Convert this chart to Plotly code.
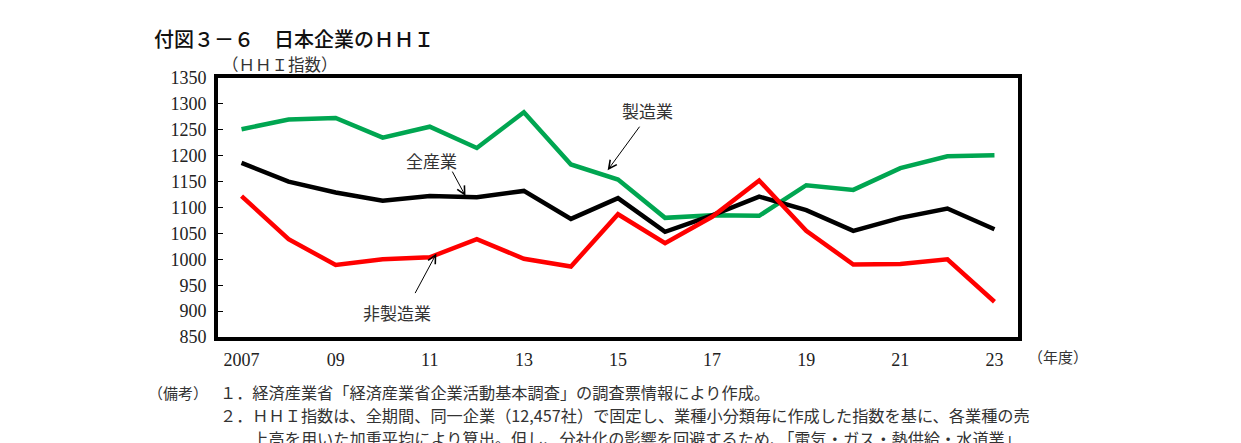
import plotly.graph_objects as go

# 年度
years = list(range(2007, 2024))
tick_vals = [2007, 2009, 2011, 2013, 2015, 2017, 2019, 2021, 2023]
tick_text = ["2007", "09", "11", "13", "15", "17", "19", "21", "23"]

# HHI指数
manufacturing = [1251, 1270, 1273, 1235, 1256, 1215, 1284, 1183, 1154,
                 1080, 1085, 1084, 1143, 1134, 1176, 1199, 1201]
all_industries = [1186, 1150, 1129, 1113, 1122, 1120, 1132, 1078, 1118,
                  1053, 1085, 1121, 1095, 1055, 1080, 1098, 1058]
non_manufacturing = [1122, 1039, 989, 1000, 1004, 1039, 1001, 986, 1087,
                     1031, 1082, 1152, 1055, 990, 991, 1000, 918]

serif = "Liberation Serif, Noto Sans CJK JP"
cjk = "Noto Sans CJK JP"

W, H = 1241, 443
L, R, T, B = 210, 231, 70, 114

fig = go.Figure()
fig.add_trace(go.Scatter(x=years, y=manufacturing, mode='lines', name='製造業',
                         line=dict(color='#00A651', width=4.5)))
fig.add_trace(go.Scatter(x=years, y=all_industries, mode='lines', name='全産業',
                         line=dict(color='#000000', width=4.5)))
fig.add_trace(go.Scatter(x=years, y=non_manufacturing, mode='lines', name='非製造業',
                         line=dict(color='#FF0000', width=4.5)))

fig.update_layout(
    width=W, height=H,
    margin=dict(l=L, r=R, t=T, b=B),
    paper_bgcolor='white', plot_bgcolor='white',
    showlegend=False,
    font=dict(family=serif, size=18, color='#222'),
    xaxis=dict(range=[2006.5, 2023.5], tickvals=tick_vals, ticktext=tick_text,
               showgrid=False, zeroline=False, showline=True, linecolor='black',
               linewidth=4, mirror=True, ticks='', ticklabelstandoff=3,
               tickfont=dict(family=serif, size=18, color='#222')),
    yaxis=dict(range=[850, 1350], dtick=50, showgrid=False, zeroline=False,
               showline=True, linecolor='black', linewidth=4, mirror=True,
               ticks='inside', ticklen=5, tickcolor='black', ticklabelstandoff=4,
               tickfont=dict(family=serif, size=18, color='#222')),
)

# 系列ラベルと矢印
labels = [
    # text, tip x, tip y, ax, ay, text x offset px, text y offset px
    ("製造業", 2014.78, 1172, 33, -45, 40, -60),
    ("全産業", 2011.76, 1122, -14, -26, -34, -36),
    ("非製造業", 2011.14, 1011, -22, 41, -39, 59),
]
for text, tx, ty, ax, ay, dx, dy in labels:
    fig.add_annotation(x=tx, y=ty, xref='x', yref='y', text='', showarrow=True,
                       ax=ax, ay=ay, arrowhead=5, arrowsize=1.6, arrowwidth=1,
                       arrowcolor='black')
    fig.add_annotation(x=tx, y=ty, xref='x', yref='y', text=text, showarrow=False,
                       xshift=dx, yshift=-dy,
                       font=dict(family=cjk, size=17, color='#333'))

# タイトル・軸ラベル・備考（位置はページ上のピクセル）
texts = [
    ('付図３－６　日本企業のＨＨＩ', 153, 38, 20, 500, '#111'),
    ('（ＨＨＩ指数）', 221, 64, 16.5, 400, '#333'),
    ('（年度）', 1027, 356, 15, 400, '#333'),
    ('（備考）', 147, 392, 15, 400, '#333'),
    ('１．経済産業省「経済産業省企業活動基本調査」の調査票情報により作成。', 219, 392, 16.2, 400, '#333'),
    ('２．ＨＨＩ指数は、全期間、同一企業（12,457社）で固定し、業種小分類毎に作成した指数を基に、各業種の売', 219, 415, 16.2, 400, '#333'),
    ('　　上高を用いた加重平均により算出。但し、分社化の影響を回避するため、「電気・ガス・熱供給・水道業」', 219, 438, 16.2, 400, '#333'),
]
pw, ph = W - L - R, H - T - B
for text, x, y, size, weight, color in texts:
    fig.add_annotation(x=(x - 8 - L) / pw, y=(H - B - (y - 8)) / ph,
                       xref='paper', yref='paper', text=text, showarrow=False,
                       xanchor='left', yanchor='middle', borderpad=0,
                       font=dict(family=cjk, size=size, weight=weight, color=color))

fig.write_html("out.html")
